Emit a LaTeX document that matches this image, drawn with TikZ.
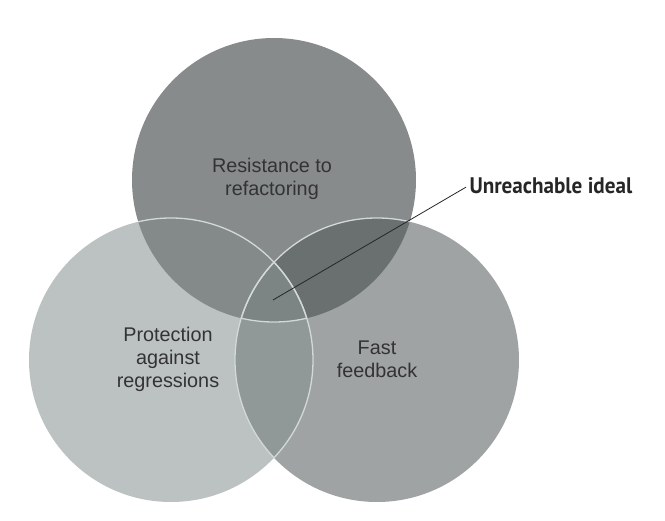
\documentclass[tikz,border=0pt]{standalone}
\usepackage{fontspec}
\setmainfont{Liberation Sans}
\newfontfamily\calloutfont[FakeStretch=0.94]{PT Sans}

\definecolor{topgray}{HTML}{878B8C}
\definecolor{leftgray}{HTML}{BCC1C2}
\definecolor{rightgray}{HTML}{A0A3A3}
\definecolor{topleft}{HTML}{848A8A}
\definecolor{topright}{HTML}{6A7070}
\definecolor{leftright}{HTML}{919898}
\definecolor{allthree}{HTML}{7D8484}
\definecolor{rimgray}{HTML}{D3D8D8}
\definecolor{textgray}{HTML}{333333}

\tikzset{
	circlabel/.style={align=center, text=textgray, font=\fontsize{19.8}{23}\selectfont},
	rim/.style={draw=rimgray, line width=1.3pt},
}

\begin{document}
\begin{tikzpicture}[x=1pt, y=-1pt, line width=1pt]
	\useasboundingbox (0, 0) rectangle (665, 521);

	\coordinate (T) at (274, 180); % Resistance to refactoring
	\coordinate (L) at (171, 360); % Protection against regressions
	\coordinate (R) at (377, 360); % Fast feedback
	\def\rad{142pt}

	\fill[topgray] (T) circle (\rad);
	\fill[leftgray] (L) circle (\rad);
	\fill[rightgray] (R) circle (\rad);

	% overlaps
	\begin{scope}
		\clip (T) circle (\rad);
		\fill[topleft] (L) circle (\rad);
		\fill[topright] (R) circle (\rad);
	\end{scope}
	\begin{scope}
		\clip (L) circle (\rad);
		\fill[leftright] (R) circle (\rad);
		\clip (R) circle (\rad);
		\fill[allthree] (T) circle (\rad);
	\end{scope}

	% light rims inside the other circles
	\begin{scope}
		\clip (T) circle (\rad);
		\draw[rim] (L) circle (\rad);
		\draw[rim] (R) circle (\rad);
	\end{scope}
	\begin{scope}
		\clip (L) circle (\rad);
		\draw[rim] (R) circle (\rad);
		\clip (R) circle (\rad);
		\draw[rim] (T) circle (\rad);
	\end{scope}
	\begin{scope}
		\clip (R) circle (\rad);
		\draw[rim] (L) circle (\rad);
	\end{scope}

	\node[circlabel] (resist) at (272, 178.5) {Resistance to\\refactoring};
	\node[circlabel] (protect) at (168, 359) {Protection\\against\\regressions};
	\node[circlabel] (fast) at (377, 359) {Fast\\feedback};

	\node[anchor=base west, inner sep=0pt, text=black!85, font=\calloutfont\bfseries\fontsize{22.5}{25}\selectfont] (ideal) at (469, 194) {Unreachable ideal};
	\coordinate (ideal end) at (273, 300);
	\draw[black!85, line width=0.8pt] ([xshift=-3pt, yshift=-1pt]ideal.west) -- (ideal end);
\end{tikzpicture}
\end{document}
